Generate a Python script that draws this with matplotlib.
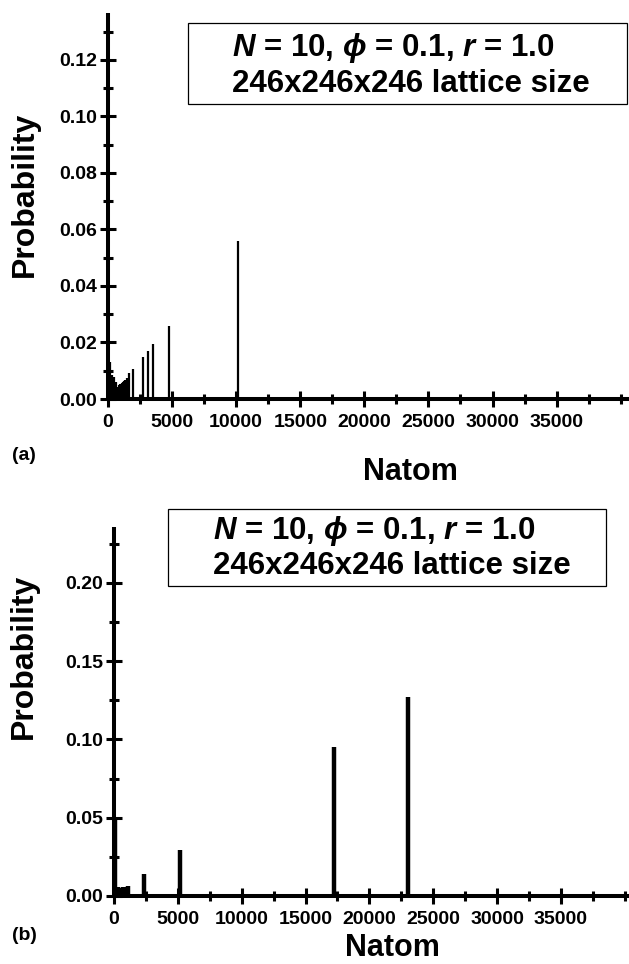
"""Cluster size distributions for the two lattice runs, panels (a) and (b)."""

import matplotlib

matplotlib.use("Agg")
import matplotlib.pyplot as plt
from matplotlib.patches import Rectangle
from matplotlib.ticker import MultipleLocator

plt.rcParams["font.family"] = ["Liberation Sans", "DejaVu Sans"]
plt.rcParams["font.weight"] = "bold"
plt.rcParams["mathtext.fontset"] = "custom"
plt.rcParams["mathtext.it"] = "Liberation Sans:italic:bold"
plt.rcParams["mathtext.rm"] = "Liberation Sans:bold"

# panel (a): cluster size (atoms) vs probability
natom_a = [180, 330, 500, 630, 760, 860, 960, 1060, 1160, 1260, 1360, 1460,
           1650, 1965, 2720, 3150, 3550, 4740, 10120]
prob_a = [0.0132, 0.0085, 0.0079, 0.0061, 0.0044, 0.0048, 0.0052, 0.0056,
          0.0060, 0.0064, 0.0068, 0.0073, 0.0091, 0.0105, 0.0148, 0.0171,
          0.0194, 0.0259, 0.0558]

# panel (b)
natom_b = [60, 300, 500, 700, 900, 1100, 2350, 5190, 17190, 23030]
prob_b = [0.049, 0.0058, 0.0052, 0.0055, 0.0060, 0.0066, 0.0138, 0.0294,
          0.0954, 0.1269]

info_line1 = r"$N$ = 10, $\phi$ = 0.1, $r$ = 1.0"
info_line2 = "246x246x246 lattice size"

W, H = 629, 964


def style_axes(ax, xmax, ymax, ymajor, yminor, yfmt):
    ax.set_xlim(0, xmax)
    ax.set_ylim(0, ymax)
    for side in ("top", "right"):
        ax.spines[side].set_visible(False)
    for side in ("left", "bottom"):
        ax.spines[side].set_linewidth(2.9)
        ax.spines[side].set_capstyle("butt")
    ax.xaxis.set_minor_locator(MultipleLocator(2500))
    ax.yaxis.set_major_locator(MultipleLocator(ymajor))
    ax.yaxis.set_minor_locator(MultipleLocator(yminor))
    ax.set_xticks([0, 5000, 10000, 15000, 20000, 25000, 30000, 35000])
    ax.yaxis.set_major_formatter(yfmt)
    ax.tick_params(which="major", direction="inout", length=12, width=2.2,
                   labelsize=14)
    ax.tick_params(which="minor", direction="inout", length=7, width=2.2)
    ax.tick_params(axis="y", which="major", pad=2)
    ax.tick_params(axis="x", which="major", pad=5)
    for lbl in ax.get_xticklabels() + ax.get_yticklabels():
        lbl.set_fontweight("bold")
    ax.set_xlabel("Natom", fontsize=22, fontweight="bold")
    ax.set_ylabel("Probability", fontsize=23, fontweight="bold")


def info_box(fig, x0, y0, x1, y1, tx, ty1, ty2):
    # box and text are laid out in pixel units measured from the top-left
    fig.patches.append(Rectangle((x0 / W, 1 - y1 / H), (x1 - x0) / W,
                                 (y1 - y0) / H, transform=fig.transFigure,
                                 fill=False, edgecolor="black", linewidth=0.9))
    fig.text(tx / W, 1 - ty1 / H, info_line1, fontsize=22.5,
             fontweight="bold", va="center", ha="left")
    fig.text(tx / W, 1 - ty2 / H, info_line2, fontsize=22.5,
             fontweight="bold", va="center", ha="left")


fig = plt.figure(figsize=(W / 100, H / 100), dpi=100)

# (a)
ax_a = fig.add_axes([108 / W, 1 - 399 / H, 1 - 108 / W, 386 / H])
ax_a.vlines(natom_a, 0, prob_a, colors="black", linewidth=1.6)
style_axes(ax_a, 40650, 0.1366, 0.02, 0.01, "{x:.2f}")
ax_a.xaxis.set_label_coords(0.58, -0.15)
ax_a.yaxis.set_label_coords(-0.13, 0.53)
info_box(fig, 188, 23, 627, 104, 232, 48, 84)
fig.text(12 / W, 1 - 456 / H, "(a)", fontsize=14, fontweight="bold",
         va="center", ha="left")

# (b)
ax_b = fig.add_axes([114 / W, 1 - 896 / H, 1 - 114 / W, 369 / H])
ax_b.vlines(natom_b, 0, prob_b, colors="black", linewidth=3.2)
style_axes(ax_b, 40325, 0.2356, 0.05, 0.025, "{x:.2f}")
ax_b.xaxis.set_label_coords(0.54, -0.1)
ax_b.yaxis.set_label_coords(-0.145, 0.65)
info_box(fig, 168, 509, 606, 586, 213, 531, 566)
fig.text(12 / W, 1 - 936 / H, "(b)", fontsize=14, fontweight="bold",
         va="center", ha="left")

fig.savefig("out.png", dpi=100)
